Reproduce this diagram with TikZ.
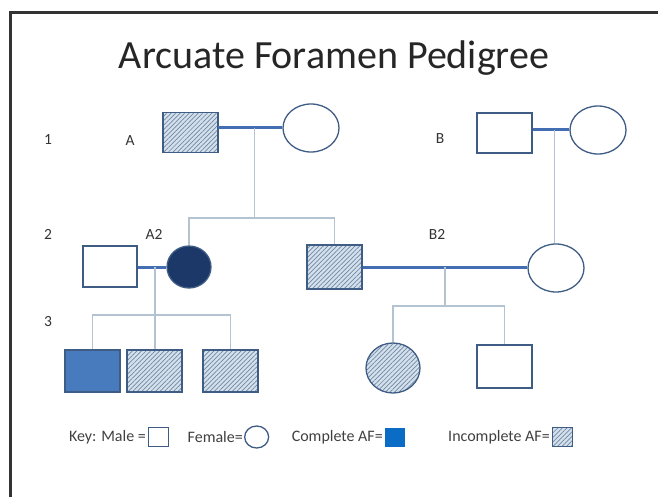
\documentclass[tikz,border=0pt]{standalone}
\usepackage{fontspec}
\setmainfont{Carlito}
\usetikzlibrary{positioning,calc,shapes.geometric,patterns.meta}
\definecolor{edgeblue}{RGB}{62,92,132}
\definecolor{mateblue}{RGB}{68,110,180}
\definecolor{kinline}{RGB}{180,195,210}
\definecolor{navy}{RGB}{28,56,104}
\definecolor{fullblue}{RGB}{72,122,190}
\definecolor{keyblue}{RGB}{10,108,196}
\definecolor{hatchbg}{RGB}{212,224,236}
\definecolor{hatchln}{RGB}{110,135,162}
\tikzstyle{male} = [
    rectangle,
    draw=edgeblue,
    line width=1.3pt,
    minimum width=55pt,
    minimum height=40pt,
    inner sep=0pt,
    fill=white
]
\tikzstyle{female} = [
    ellipse,
    draw=edgeblue,
    line width=1.3pt,
    minimum width=56pt,
    minimum height=48pt,
    inner sep=0pt,
    fill=white
]
\tikzstyle{partial} = [
    preaction={fill=hatchbg},
    pattern={Lines[angle=45,distance=3.2pt,line width=0.7pt]},
    pattern color=hatchln
]
\tikzstyle{mate} = [
    line width=3pt,
    draw=mateblue
]
\tikzstyle{kin} = [
    line width=1.3pt,
    draw=kinline
]
\tikzstyle{gen} = [
    font=\fontsize{15.5}{17}\selectfont,
    text=black!80
]
\tikzstyle{keytext} = [
    font=\fontsize{16}{18}\selectfont,
    text=black!75,
    anchor=east,
    inner sep=1pt
]

\begin{document}
\begin{tikzpicture}[x=1pt, y=-1pt]
        \useasboundingbox (0,0) rectangle (658,497);
        % Frame
        \draw[line width=3pt, black!80] (10.5,497) |- (658,12.5);

        % Title
        \node[font=\fontsize{40}{46}\selectfont, text=black!85] (title) at (334,58) {Arcuate Foramen Pedigree};

        % Generation 1
        \node[gen] (g1) at (48,140) {1};
        \node[gen] (labA) at (130,141) {A};
        \node[gen] (labB) at (440,139) {B};
        \node[male, partial] (Asq) at (190.5,132.5) {};
        \node[female] (Awife) at (311,128) {};
        \node[male] (Bsq) at (504.5,133) {};
        \node[female] (Bwife) at (598,130) {};

        % Generation 2
        \node[gen] (g2) at (48,234) {2};
        \node[gen] (labA2) at (154,234) {A2};
        \node[gen] (labB2) at (437,234) {B2};
        \node[male, minimum width=54pt, minimum height=41pt] (A2h) at (110,266.5) {};
        \node[female, fill=navy, minimum width=44pt, minimum height=42pt] (A2) at (189,267) {};
        \node[male, partial, minimum height=44pt] (Bro) at (334.5,267) {};
        \node[female] (B2w) at (556,268) {};

        % Generation 3
        \node[gen] (g3) at (48,322) {3};
        \node[male, fill=fullblue, minimum height=42pt] (C1) at (92.5,371) {};
        \node[male, partial, minimum height=42pt] (C2) at (154.5,371) {};
        \node[male, partial, minimum height=42pt] (C3) at (230.5,371) {};
        \node[female, partial, minimum width=54pt, minimum height=50pt] (D1) at (393,368) {};
        \node[male, minimum height=43pt] (D2) at (504.5,366.5) {};

        % Couple A and children
        \draw[mate] (Asq.east |- Awife.west) -- coordinate[pos=0.57] (Amid) (Awife.west);
        \draw[kin] (Amid) -- ++(0,90) coordinate (Asib);
        \draw[kin] (A2.north) |- (Asib) -| (Bro.north);

        % Couple B and daughter
        \draw[mate] (Bsq.east |- Bwife.west) -- coordinate[pos=0.6] (Bmid) (Bwife.west);
        \draw[kin] (Bmid) -- (Bmid |- B2w.north);

        % Couple A2 and children
        \draw[mate] (A2h.east |- A2.west) -- coordinate[pos=0.6] (A2mid) (A2.west);
        \draw[kin] (A2mid) -- ++(0,48) coordinate (A2sib);
        \draw[kin] (C1.north) |- (A2sib) -| (C3.north);
        \draw[kin] (A2sib) -- (A2sib |- C2.north);

        % Couple B2 and children
        \draw[mate] (Bro.east) -- coordinate[pos=0.5] (B2mid) (Bro.east -| B2w.west);
        \draw[kin] (B2mid) -- ++(0,39) coordinate (B2sib);
        \draw[kin] (D1.north) |- (B2sib) -| (D2.north);

        % Key
        \node[keytext] (keyM) at (147,437) {Key: Male =};
        \node[male, minimum width=20pt, minimum height=19pt, right=1pt of keyM] (keyMsq) {};
        \node[keytext] (keyF) at (244,437) {Female=};
        \node[female, minimum width=24pt, minimum height=22pt, right=0pt of keyF] (keyFc) {};
        \node[keytext] (keyC) at (384,437) {Complete AF=};
        \node[rectangle, fill=keyblue, minimum width=20pt, minimum height=19pt, inner sep=0pt, right=1pt of keyC] (keyCsq) {};
        \node[keytext] (keyI) at (551,437) {Incomplete AF=};
        \node[male, partial, line width=0.8pt, minimum width=20pt, minimum height=19pt, right=1pt of keyI] (keyIsq) {};
    \end{tikzpicture}
\end{document}
